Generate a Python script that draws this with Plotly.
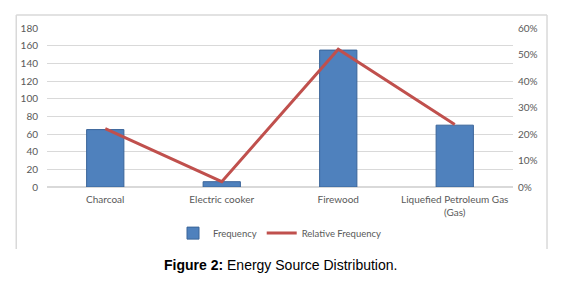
import plotly.graph_objects as go

categories = ["Charcoal", "Electric cooker", "Firewood", "Liquefied Petroleum Gas<br>(Gas)"]
frequency = [65, 6, 155, 70]
relative_frequency = [0.22, 0.02, 0.52, 0.236]
left_ticks = list(range(0, 181, 20))
right_ticks = [0, 0.1, 0.2, 0.3, 0.4, 0.5, 0.6]
right_tick_labels = ["0%", "10%", "20%", "30%", "40%", "50%", "60%"]

font_fam = "Lato, 'Open Sans', sans-serif"
grey = "#595959"

fig = go.Figure()
fig.add_trace(go.Bar(
    x=categories, y=frequency, name="Frequency",
    marker=dict(color="#4f81bd", line=dict(color="#3a6499", width=1)),
    width=0.32, yaxis="y",
))
fig.add_trace(go.Scatter(
    x=categories, y=relative_frequency, name="Relative Frequency",
    mode="lines", line=dict(color="#c0504d", width=3), yaxis="y2",
))

fig.update_layout(
    width=568, height=285,
    margin=dict(l=47, r=55, t=28, b=98, autoexpand=False),
    paper_bgcolor="white", plot_bgcolor="white",
    font=dict(family=font_fam, size=10, color=grey),
    showlegend=True,
    legend=dict(orientation="h", x=0.5, xanchor="center", y=-0.29, yanchor="middle",
                font=dict(size=9.5, color=grey), itemwidth=30),
    xaxis=dict(showgrid=False, showline=False, ticks="", ticklabelstandoff=5,
               tickfont=dict(size=10, color=grey)),
    yaxis=dict(range=[0, 180], tickvals=left_ticks, showgrid=True, gridcolor="#d9d9d9",
               gridwidth=1, zeroline=True, zerolinecolor="#d9d9d9", showline=False,
               ticks="", ticklabelstandoff=8, tickfont=dict(size=10, color=grey)),
    yaxis2=dict(range=[0, 0.6], tickvals=right_ticks, ticktext=right_tick_labels,
                overlaying="y", side="right", showgrid=False, zeroline=False,
                showline=False, ticks="", ticklabelstandoff=4,
                tickfont=dict(size=10, color=grey)),
    shapes=[
        dict(type="line", xref="paper", yref="paper", x0=-0.066, x1=-0.066, y0=1.082, y1=-0.39,
             line=dict(color="#d9d9d9", width=1.5)),
        dict(type="line", xref="paper", yref="paper", x0=1.073, x1=1.073, y0=1.082, y1=-0.39,
             line=dict(color="#d9d9d9", width=1.5)),
        dict(type="line", xref="paper", yref="paper", x0=-0.066, x1=1.073, y0=1.082, y1=1.082,
             line=dict(color="#d9d9d9", width=1.5)),
    ],
    annotations=[
        dict(text="<b>Figure 2:</b> Energy Source Distribution.", xref="paper", yref="paper",
             x=0.5, y=-0.49, xanchor="center", yanchor="middle", showarrow=False,
             font=dict(family="Liberation Sans, Arial, sans-serif", size=14, color="black")),
    ],
)

fig.write_html("out.html", config={"displayModeBar": False},
               post_script="document.body.style.margin='0';")
